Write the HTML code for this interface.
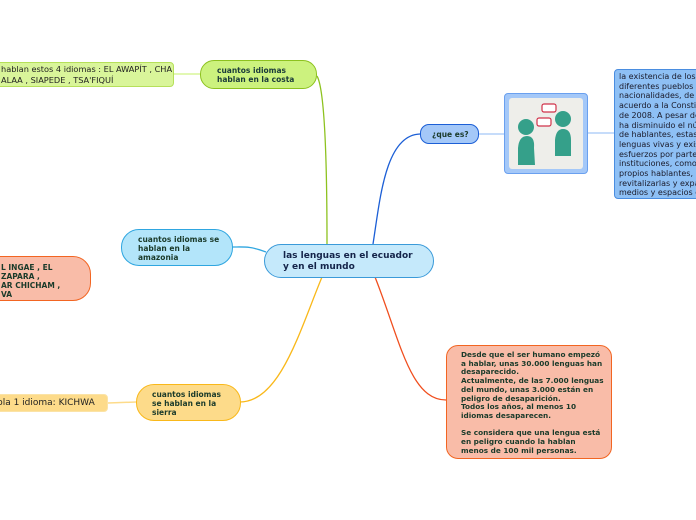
<!DOCTYPE html>
<html><head><meta charset="utf-8"><style>
body{margin:0;width:696px;height:520px;background:#fff;overflow:hidden;position:relative;font-family:"DejaVu Sans","Liberation Sans",sans-serif;}
.n{position:absolute;box-sizing:border-box;font-size:7.5px;font-weight:bold;color:#1a3a2a;line-height:9px;}
.l{position:absolute;box-sizing:border-box;font-size:8.5px;color:#222;line-height:11px;white-space:nowrap;overflow:hidden;}
svg{position:absolute;left:0;top:0}
</style></head><body>
<svg width="696" height="520">
<path d="M327,244 C327,170 325,90 317,76" stroke="#8dc21f" stroke-width="1.3" fill="none"/>
<path d="M174,74 L200,74" stroke="#d9f59a" stroke-width="1.5" fill="none"/>
<path d="M373,244 C380,200 385,135 420,134" stroke="#1c5fd6" stroke-width="1.3" fill="none"/>
<path d="M478,134 L504,134 M587,133 L614,133" stroke="#a4c8f8" stroke-width="1.3" fill="none"/>
<path d="M266,252 C250,246 245,247 232,247" stroke="#2fa6e0" stroke-width="1.3" fill="none"/>
<path d="M322,277 C300,330 280,402 240,402" stroke="#f9b81a" stroke-width="1.3" fill="none"/>
<path d="M108,403 L136,402" stroke="#fddb8a" stroke-width="1.5" fill="none"/>
<path d="M375,277 C400,340 410,400 446,400" stroke="#f04e1e" stroke-width="1.3" fill="none"/>
</svg>
<div class="n" style="left:264px;top:244px;width:170px;height:34px;background:#c5e9fb;border:1px solid #3a9ad9;border-radius:17px;font-size:9px;line-height:11px;color:#14244a;padding:6px 0 0 18px;">las lenguas en el ecuador<br>y en el mundo</div>
<div class="n" style="left:200px;top:60px;width:117px;height:29px;background:#ccf27e;border:1px solid #8dc21f;border-radius:14px;padding:5px 0 0 16px;color:#1a3a3a;">cuantos idiomas<br>hablan en la costa</div>
<div class="l" style="left:-10px;top:62px;width:184px;height:25px;background:#d9f59a;border:1px solid #b6e05a;border-radius:4px;padding:1px 0 0 10px;font-size:8.2px;">hablan estos 4 idiomas : EL AWAPÍT , CHA<br>ALAA , SIAPEDE , TSA'FIQUÍ</div>
<div class="n" style="left:121px;top:229px;width:112px;height:37px;background:#b3e5fa;border:1px solid #2fa6e0;border-radius:18px;padding:5px 0 0 16px;">cuantos idiomas se<br>hablan en la<br>amazonia</div>
<div class="n" style="left:-20px;top:256px;width:111px;height:45px;background:#f9bca8;border:1px solid #f26522;border-radius:18px;padding:6px 0 0 20px;">L INGAE , EL<br>ZAPARA ,<br>AR CHICHAM ,<br>VA</div>
<div class="n" style="left:136px;top:384px;width:105px;height:37px;background:#fddb8a;border:1px solid #f9b81a;border-radius:18px;padding:5px 0 0 15px;">cuantos idiomas<br>se hablan en la<br>sierra</div>
<div class="l" style="left:-10px;top:394px;width:118px;height:18px;background:#fddb8a;border:1px solid #fbe3a6;border-radius:4px;padding:3px 0 0 6px;font-size:9px;">bla 1 idioma: KICHWA</div>
<div class="n" style="left:420px;top:124px;width:59px;height:20px;background:#a4c8f8;border:1px solid #1c5fd6;border-radius:9px;padding:5px 0 0 11px;">¿que es?</div>
<div style="position:absolute;left:504px;top:93px;width:84px;height:81px;box-sizing:border-box;background:#a4c8f8;border:1px solid #6aa0ef;border-radius:4px;">
<div style="position:absolute;left:4px;top:4px;width:74px;height:71px;background:#eeeeea;border-radius:3px;">
<svg width="74" height="71" style="position:absolute;left:0;top:0">
<circle cx="17" cy="29" r="8" fill="#35a08a"/><path d="M9,50 Q10,38 18,38 Q26,38 25,50 L26,67 L9,67 Z" fill="#35a08a"/>
<circle cx="54" cy="21" r="8" fill="#35a08a"/><path d="M46,42 Q47,31 54,31 Q62,31 62,42 L62,58 L46,58 Z" fill="#35a08a"/>
<rect x="28" y="20" width="14" height="8" rx="2" fill="#fff" stroke="#d0334a" stroke-width="1.2"/>
<rect x="33" y="6" width="14" height="8" rx="2" fill="#fff" stroke="#d0334a" stroke-width="1.2"/>
</svg></div></div>
<div class="l" style="left:614px;top:69px;width:90px;height:130px;background:#8ec0f5;border:1px solid #4a8de0;border-radius:4px;padding:2px 0 0 4px;font-size:8px;line-height:9.7px;color:#1a1a2a;">la existencia de los<br>diferentes pueblos y<br>nacionalidades, de<br>acuerdo a la Consti<br>de 2008. A pesar de<br>ha disminuido el nú<br>de hablantes, estas<br>lenguas vivas y exis<br>esfuerzos por parte<br>instituciones, como<br>propios hablantes, p<br>revitalizarlas y expa<br>medios y espacios d</div>
<div class="n" style="left:446px;top:345px;width:166px;height:114px;background:#f9bca8;border:1px solid #f26522;border-radius:12px;padding:5px 0 0 14px;line-height:8.7px;font-size:7.3px;">Desde que el ser humano empezó<br>a hablar, unas 30.000 lenguas han<br>desaparecido.<br>Actualmente, de las 7.000 lenguas<br>del mundo, unas 3.000 están en<br>peligro de desaparición.<br>Todos los años, al menos 10<br>idiomas desaparecen.<br><br>Se considera que una lengua está<br>en peligro cuando la hablan<br>menos de 100 mil personas.</div>
</body></html>
